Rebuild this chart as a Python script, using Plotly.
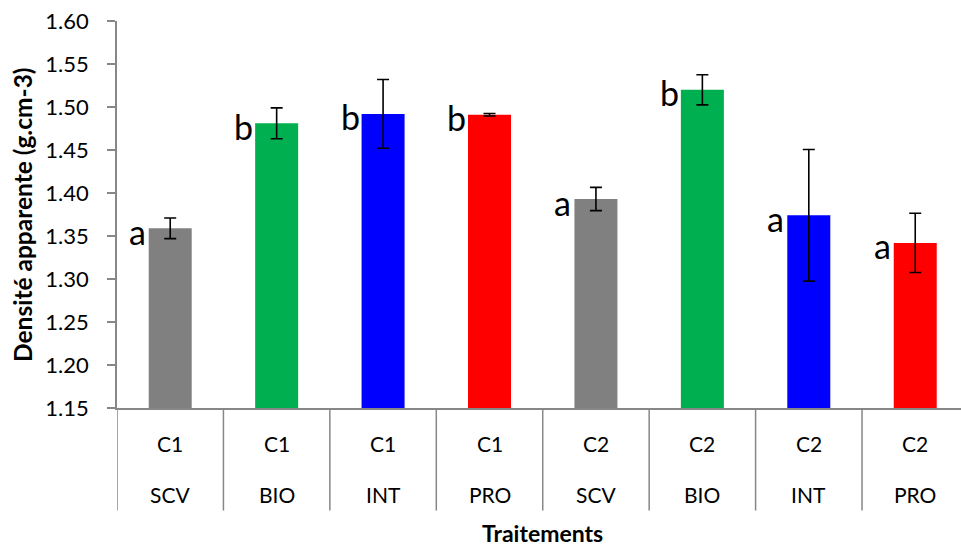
import plotly.graph_objects as go

# Bulk density per treatment (cycle x system)
cycles = ["C1", "C1", "C1", "C1", "C2", "C2", "C2", "C2"]
systems = ["SCV", "BIO", "INT", "PRO", "SCV", "BIO", "INT", "PRO"]
density = [1.359, 1.481, 1.492, 1.491, 1.393, 1.520, 1.374, 1.342]
std_err = [0.012, 0.018, 0.040, 0.0015, 0.0135, 0.0175, 0.0765, 0.0345]
groups = ["a", "b", "b", "b", "a", "b", "a", "a"]
colors = ["#808080", "#00B050", "#0000FF", "#FF0000",
          "#808080", "#00B050", "#0000FF", "#FF0000"]

y_ticks = [1.15, 1.20, 1.25, 1.30, 1.35, 1.40, 1.45, 1.50, 1.55, 1.60]

FONT = "Lato, 'Open Sans', sans-serif"
AXIS_GREY = "#878787"

idx = list(range(len(density)))

fig = go.Figure()
fig.add_trace(go.Bar(
    x=idx,
    y=density,
    base=0,
    marker=dict(color=colors, line=dict(width=0)),
    error_y=dict(type="data", array=std_err, visible=True,
                 color="black", thickness=1.6, width=6),
    width=0.404,
    showlegend=False,
))

annotations = []
# significance letters, left of each bar top
for i, (v, g) in enumerate(zip(density, groups)):
    annotations.append(dict(
        x=i, y=v, xref="x", yref="y", text=g, showarrow=False,
        xanchor="center", yanchor="middle", xshift=-33, yshift=-3,
        font=dict(family=FONT, size=34, color="black"),
    ))
# two-level category labels
for i, (c, s) in enumerate(zip(cycles, systems)):
    annotations.append(dict(
        x=i, y=0, xref="x", yref="paper", text=c, showarrow=False,
        xanchor="center", yanchor="middle", yshift=-35,
        font=dict(family=FONT, size=21, color="black"),
    ))
    annotations.append(dict(
        x=i, y=0, xref="x", yref="paper", text=s, showarrow=False,
        xanchor="center", yanchor="middle", yshift=-86,
        font=dict(family=FONT, size=21, color="black"),
    ))
# axis titles
annotations.append(dict(
    x=3.5, y=0, xref="x", yref="paper", text="<b>Traitements</b>",
    showarrow=False, xanchor="center", yanchor="middle", yshift=-125,
    font=dict(family=FONT, size=23, color="black"),
))
annotations.append(dict(
    x=-0.112, y=0.5, xref="paper", yref="paper",
    text="<b>Densité apparente (g.cm-3)</b>", textangle=-90,
    showarrow=False, xanchor="center", yanchor="middle",
    font=dict(family=FONT, size=24.5, color="black"),
))

# category separators running through the label block
shapes = []
for i in range(len(density) + 1):
    shapes.append(dict(
        type="line", xref="x", yref="paper",
        x0=i - 0.5, x1=i - 0.5, y0=0, y1=-0.265,
        line=dict(color=AXIS_GREY, width=1.5),
    ))

fig.update_layout(
    width=961, height=546,
    margin=dict(l=116.5, r=0, t=21, b=138),
    paper_bgcolor="white", plot_bgcolor="white",
    font=dict(family=FONT, size=21, color="black"),
    annotations=annotations,
    shapes=shapes,
    xaxis=dict(
        range=[-0.5, 7.43], showticklabels=False, ticks="",
        showgrid=False, zeroline=False,
        showline=True, linecolor=AXIS_GREY, linewidth=1.5,
    ),
    yaxis=dict(
        range=[1.15, 1.60], tickvals=y_ticks,
        ticktext=[f"{t:.2f}" for t in y_ticks],
        ticks="outside", ticklen=8, tickcolor=AXIS_GREY, tickwidth=1.5,
        ticklabelstandoff=14,
        tickfont=dict(family=FONT, size=22, color="black"),
        showgrid=False, zeroline=False,
        showline=True, linecolor=AXIS_GREY, linewidth=1.5,
    ),
)

fig.write_html("out.html")
